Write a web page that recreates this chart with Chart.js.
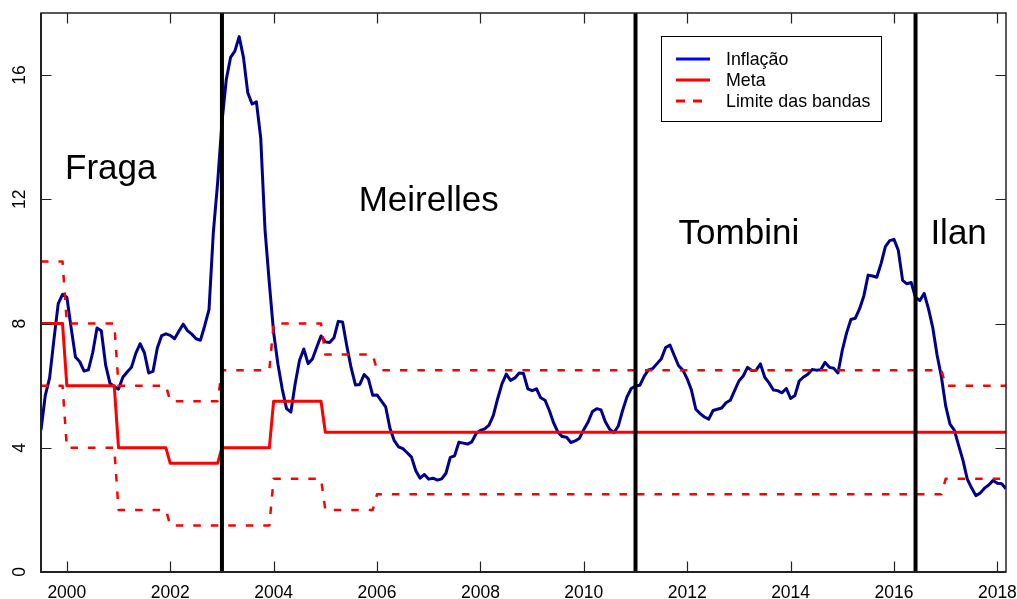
<!DOCTYPE html>
<html>
<head>
<meta charset="utf-8">
<script src="https://cdn.jsdelivr.net/npm/chart.js@4.4.0/dist/chart.umd.min.js"></script>
<style>
  html, body { margin: 0; padding: 0; background: #fff; }
  #wrap { width: 1017px; height: 599px; }
</style>
</head>
<body>
<div id="wrap"><canvas id="grafico" width="1017" height="599"></canvas></div>
<script>
// IPCA acumulado em 12 meses, mensal, de jul/1999 a mar/2018
const inicio = 1999.5;
const inflacao = [
  4.57, 5.69, 6.25, 7.48, 8.64, 8.94,                               // 1999 (jul-dez)
  8.85, 7.86, 6.92, 6.77, 6.47, 6.51, 7.06, 7.86, 7.77, 6.67, 6.08, 5.97,  // 2000
  5.89, 6.27, 6.44, 6.59, 7.04, 7.35, 7.06, 6.41, 6.46, 7.21, 7.61, 7.67,  // 2001
  7.62, 7.51, 7.75, 7.98, 7.77, 7.66, 7.51, 7.46, 7.93, 8.45, 10.93, 12.53, // 2002
  14.47, 15.85, 16.57, 16.77, 17.24, 16.57, 15.43, 15.07, 15.14, 13.98, 11.02, 9.30, // 2003
  7.71, 6.69, 5.89, 5.26, 5.15, 6.06, 6.81, 7.18, 6.71, 6.86, 7.24, 7.60,  // 2004
  7.41, 7.39, 7.54, 8.07, 8.05, 7.27, 6.57, 6.02, 6.04, 6.36, 6.22, 5.69,  // 2005
  5.70, 5.51, 5.32, 4.63, 4.23, 4.03, 3.97, 3.84, 3.70, 3.26, 3.02, 3.14,  // 2006
  2.99, 3.02, 2.96, 3.00, 3.18, 3.69, 3.74, 4.18, 4.15, 4.12, 4.19, 4.46,  // 2007
  4.56, 4.61, 4.73, 5.04, 5.58, 6.06, 6.37, 6.17, 6.25, 6.41, 6.39, 5.90,  // 2008
  5.84, 5.90, 5.61, 5.53, 5.20, 4.80, 4.50, 4.36, 4.34, 4.17, 4.22, 4.31,  // 2009
  4.59, 4.83, 5.17, 5.26, 5.22, 4.84, 4.60, 4.49, 4.70, 5.20, 5.63, 5.91,  // 2010
  5.99, 6.01, 6.30, 6.51, 6.55, 6.71, 6.87, 7.23, 7.31, 6.97, 6.64, 6.50,  // 2011
  6.22, 5.85, 5.24, 5.10, 4.99, 4.92, 5.20, 5.24, 5.28, 5.45, 5.53, 5.84,  // 2012
  6.15, 6.31, 6.59, 6.49, 6.50, 6.70, 6.27, 6.09, 5.86, 5.84, 5.77, 5.91,  // 2013
  5.59, 5.68, 6.15, 6.28, 6.37, 6.52, 6.50, 6.51, 6.75, 6.59, 6.56, 6.41,  // 2014
  7.14, 7.70, 8.13, 8.17, 8.47, 8.89, 9.56, 9.53, 9.49, 9.93, 10.48, 10.67, // 2015
  10.71, 10.36, 9.39, 9.28, 9.32, 8.84, 8.74, 8.97, 8.48, 7.87, 6.99, 6.29, // 2016
  5.35, 4.76, 4.57, 4.08, 3.60, 3.00, 2.71, 2.46, 2.54, 2.70, 2.80, 2.95,  // 2017
  2.86, 2.84, 2.68                                                   // 2018 (jan-mar)
];

// metas anuais e limites das bandas
const anos      = [1999, 2000, 2001, 2002, 2003, 2004, 2005, 2006, 2007, 2008, 2009, 2010, 2011, 2012, 2013, 2014, 2015, 2016, 2017, 2018];
const meta      = [8,    6,    4,    3.5,  4,    5.5,  4.5,  4.5,  4.5,  4.5,  4.5,  4.5,  4.5,  4.5,  4.5,  4.5,  4.5,  4.5,  4.5,  4.5];
const limiteSup = [10,   8,    6,    5.5,  6.5,  8,    7,    6.5,  6.5,  6.5,  6.5,  6.5,  6.5,  6.5,  6.5,  6.5,  6.5,  6.5,  6,    6];
const limiteInf = [6,    4,    2,    1.5,  1.5,  3,    2,    2.5,  2.5,  2.5,  2.5,  2.5,  2.5,  2.5,  2.5,  2.5,  2.5,  2.5,  3,    3];

// inicio de cada mandato
const mandatos = [2003, 2011, 2016 + 5 / 12];
const presidentes = ['Fraga', 'Meirelles', 'Tombini', 'Ilan'];
const presX = [2000.85, 2007, 2013, 2017.25];
const presY = [13.05, 12, 10.95, 10.95];

const xTicks = [2000, 2002, 2004, 2006, 2008, 2010, 2012, 2014, 2016, 2018];
const yTicks = [0, 4, 8, 12, 16];

const fonte = "'Liberation Sans', Arial, sans-serif";

const tempo = inflacao.map((v, i) => inicio + i / 12);
const porAno = (serie) => tempo.map(t => {
  const k = anos.indexOf(Math.floor(t + 1e-9));
  return { x: t, y: serie[k] };
});

const linhaSerie = (label, data, color, width, order, dash) => ({
  label: label,
  data: data,
  borderColor: color,
  backgroundColor: color,
  borderWidth: width,
  borderDash: dash || [],
  pointRadius: 0,
  tension: 0,
  fill: false,
  order: order,
  borderJoinStyle: 'round'
});

const datasets = [
  linhaSerie('Inflação', tempo.map((t, i) => ({ x: t, y: inflacao[i] })), '#00008b', 3, 3),
  linhaSerie('Meta', porAno(meta), '#ff0000', 3, 2),
  linhaSerie('Limite superior', porAno(limiteSup), '#ff0000', 2.5, 1, [7.5, 10]),
  linhaSerie('Limite inferior', porAno(limiteInf), '#ff0000', 2.5, 1, [7.5, 10])
];
mandatos.forEach(m => {
  datasets.push(linhaSerie('Mandato', [{ x: m, y: 0 }, { x: m, y: 18 }], '#000000', 4, 0));
});

const moldura = {
  id: 'moldura',
  afterDatasetsDraw(chart) {
    const ctx = chart.ctx;
    const a = chart.chartArea;
    const sx = chart.scales.x;
    const sy = chart.scales.y;
    const tick = 10.5;
    ctx.save();

    // caixa
    ctx.strokeStyle = '#222';
    ctx.lineWidth = 1.5;
    ctx.strokeRect(a.left, a.top, a.right - a.left, a.bottom - a.top);
    ctx.lineWidth = 2;
    ctx.beginPath();
    ctx.moveTo(a.left, a.top); ctx.lineTo(a.left, a.bottom); ctx.lineTo(a.right, a.bottom);
    ctx.stroke();

    // marcas para dentro, nos quatro lados
    ctx.lineWidth = 1.2;
    ctx.beginPath();
    xTicks.forEach(v => {
      const px = Math.round(sx.getPixelForValue(v)) + 0.5;
      ctx.moveTo(px, a.bottom); ctx.lineTo(px, a.bottom - tick);
      ctx.moveTo(px, a.top); ctx.lineTo(px, a.top + tick);
    });
    yTicks.forEach(v => {
      const py = Math.round(sy.getPixelForValue(v)) + 0.5;
      ctx.moveTo(a.left, py); ctx.lineTo(a.left + tick, py);
      ctx.moveTo(a.right, py); ctx.lineTo(a.right - tick, py);
    });
    ctx.stroke();

    // rotulos dos eixos
    ctx.fillStyle = '#000';
    ctx.font = '17.5px ' + fonte;
    ctx.textAlign = 'center';
    ctx.textBaseline = 'alphabetic';
    xTicks.forEach(v => {
      ctx.fillText(String(v), sx.getPixelForValue(v), 598);
    });
    yTicks.forEach(v => {
      ctx.save();
      ctx.translate(24.5, sy.getPixelForValue(v));
      ctx.rotate(-Math.PI / 2);
      ctx.fillText(String(v), 0, 0);
      ctx.restore();
    });

    // nomes dos presidentes
    ctx.font = '35px ' + fonte;
    presidentes.forEach((nome, i) => {
      ctx.fillText(nome, sx.getPixelForValue(presX[i]), sy.getPixelForValue(presY[i]) + 12);
    });

    // legenda
    ctx.strokeStyle = '#000';
    ctx.lineWidth = 1;
    ctx.strokeRect(661.5, 36.5, 220, 85);
    const itens = [
      { texto: 'Inflação', cor: '#0000ff', dash: [] },
      { texto: 'Meta', cor: '#ff0000', dash: [] },
      { texto: 'Limite das bandas', cor: '#ff0000', dash: [9, 8] }
    ];
    ctx.font = '17.8px ' + fonte;
    ctx.textAlign = 'left';
    itens.forEach((it, i) => {
      const y = 59 + i * 21;
      ctx.strokeStyle = it.cor;
      ctx.lineWidth = 3;
      ctx.setLineDash(it.dash);
      ctx.beginPath();
      ctx.moveTo(676, y); ctx.lineTo(710, y);
      ctx.stroke();
      ctx.setLineDash([]);
      ctx.fillText(it.texto, 726, y + 6);
    });
    ctx.restore();
  }
};

new Chart(document.getElementById('grafico'), {
  type: 'line',
  data: { datasets: datasets },
  options: {
    responsive: false,
    devicePixelRatio: 1,
    animation: false,
    layout: { padding: { left: 41, top: 13, right: 11, bottom: 27 } },
    plugins: {
      legend: { display: false },
      tooltip: { enabled: false }
    },
    scales: {
      x: { type: 'linear', display: false, min: inicio, max: inicio + (inflacao.length - 1) / 12 },
      y: { display: false, min: 0, max: 18 }
    }
  },
  plugins: [moldura]
});
</script>
</body>
</html>
